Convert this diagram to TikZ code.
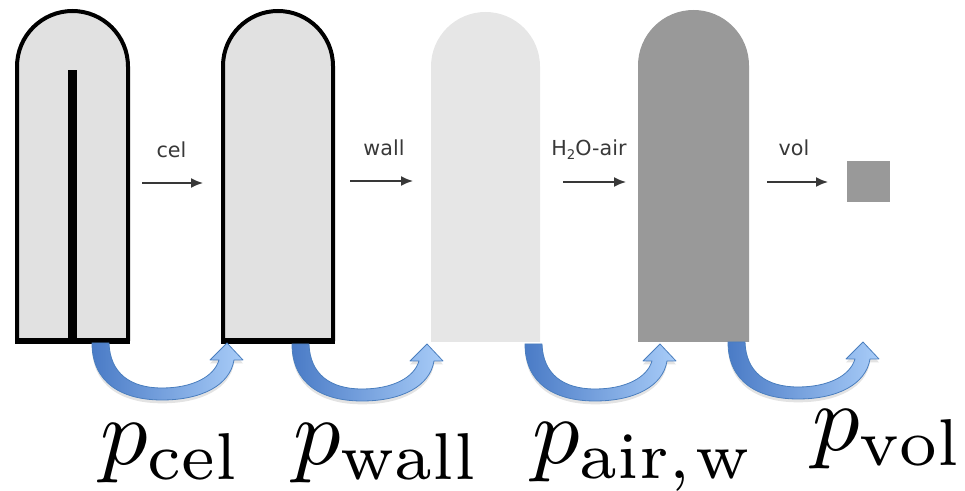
\documentclass[tikz,border=0pt]{standalone}
\usepackage{graphicx}
\usepackage{fontspec}
\newfontfamily\stagefont{DejaVu Sans}
\usetikzlibrary{arrows.meta,shadows}

\definecolor{cellgray}{HTML}{E1E1E1}
\definecolor{wallgray}{HTML}{E6E6E6}
\definecolor{darkgray}{HTML}{999999}
\definecolor{labelgray}{HTML}{383838}
\definecolor{bluedark}{HTML}{4A7BC6}
\definecolor{bluemid}{HTML}{6F9EE0}
\definecolor{bluelight}{HTML}{A8CCF8}
\definecolor{blueedge}{HTML}{4A7EBE}

\newcommand{\bigmath}[1]{\scalebox{7.1}{$#1$}}

\tikzset{
  outlined/.style={draw=black, line width=3pt, fill=cellgray, line join=round},
  baseline/.style={draw=black, line width=5pt},
  stagearrow/.style={draw=labelgray, line width=1.2pt, -{Latex[length=9pt,width=7.5pt]}},
  stagelabel/.style={anchor=base, inner sep=0pt, text=labelgray,
    font=\stagefont\fontsize{15.5}{18}\selectfont},
  pname/.style={anchor=base west, inner sep=0pt},
  turnarrow/.pic={
    \shade[left color=bluedark, middle color=bluemid, right color=bluelight,
           draw=blueedge, line width=0.6pt, line join=round,
           drop shadow={opacity=0.22, shadow xshift=0pt, shadow yshift=-2.5pt}]
      (0,0) .. controls (0,40) and (30,57) .. (70,57)
            .. controls (110,57) and (138,42) .. (142,17)
            -- (151,17) -- (135,0) -- (118,17) -- (127,17)
            .. controls (122,34) and (100,45) .. (70,45)
            .. controls (38,45) and (18,30) .. (17,0) -- cycle;
  }
}

\begin{document}
\begin{tikzpicture}[x=0.75pt,y=-0.75pt]
\useasboundingbox (0,0) rectangle (965,491);

% stage 1: cell with its middle wall
\draw[outlined] (17,341) -- (17,66.5) arc[start angle=180,end angle=360,radius=55.5]
  -- (128,341) -- cycle;
\draw[baseline] (15,341) -- (130,341);
\fill[black] (68,70) rectangle (77,341);

% stage 2: cell without the middle wall
\draw[outlined] (223,341) -- (223,66) arc[start angle=180,end angle=360,radius=55]
  -- (333,341) -- cycle;
\draw[baseline] (221,341) -- (335,341);

% stage 3: wall removed
\fill[wallgray] (431,342) -- (431,66.5) arc[start angle=180,end angle=360,radius=54.5]
  -- (540,342) -- cycle;

% stage 4: water replaced by air
\fill[darkgray] (638,342) -- (638,65.5) arc[start angle=180,end angle=360,radius=55.5]
  -- (749,342) -- cycle;

% stage 5: volume
\fill[darkgray] (847,161) rectangle (890,202);

% step arrows and their labels
\coordinate (a1s) at (142,183); \coordinate (a1e) at (203,183);
\coordinate (a2s) at (350,181); \coordinate (a2e) at (413,181);
\coordinate (a3s) at (563,182); \coordinate (a3e) at (626,182);
\coordinate (a4s) at (767,182); \coordinate (a4e) at (828,182);
\draw[stagearrow] (a1s) -- (a1e);
\draw[stagearrow] (a2s) -- (a2e);
\draw[stagearrow] (a3s) -- (a3e);
\draw[stagearrow] (a4s) -- (a4e);
\node[stagelabel] (l1) at (171.5,158) {cel};
\node[stagelabel] (l2) at (384,156) {wall};
\node[stagelabel] (l3) at (589,156) {H\raisebox{-0.3ex}{\fontsize{10}{10}\selectfont 2}O-air};
\node[stagelabel] (l4) at (794,156) {vol};

% curved transition arrows
\pic (t1) at (92,343) {turnarrow};
\pic (t2) at (292,344) {turnarrow};
\pic (t3) at (525,344) {turnarrow};
\pic (t4) at (728,342) {turnarrow};

% parameter names
\node[pname] (p1) at (100,465) {\bigmath{p_{\mathrm{cel}}}};
\node[pname] (p2) at (293,465) {\bigmath{p_{\mathrm{wall}}}};
\node[pname] (p3) at (532,464) {\bigmath{p_{\mathrm{air,\mkern1mu w}}}};
\node[pname] (p4) at (812,451) {\bigmath{p_{\mathrm{vol}}}};
\end{tikzpicture}
\end{document}
